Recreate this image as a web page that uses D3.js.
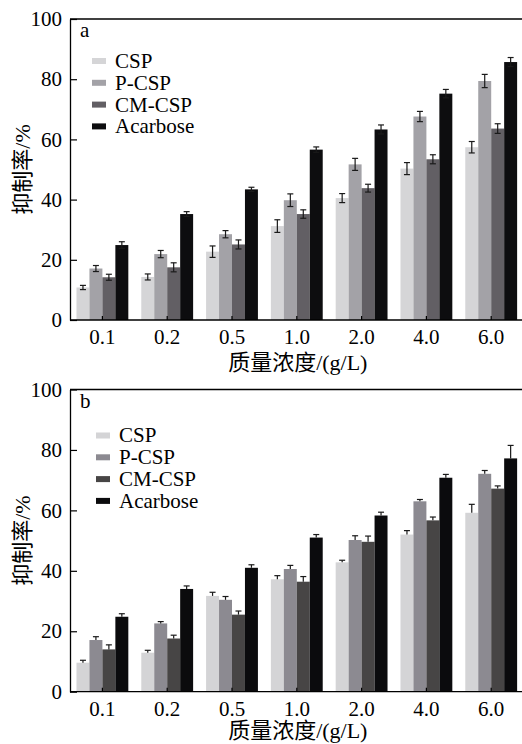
<!DOCTYPE html>
<html>
<head>
<meta charset="utf-8">
<script src="https://cdn.jsdelivr.net/npm/d3@7"></script>
<style>
  body { margin: 0; background: #fff; }
  svg { display: block; font-family: "Liberation Serif", "Noto Sans CJK SC", serif; }
</style>
</head>
<body>
<svg id="chart"></svg>
<script>
// Categories and ticks
const concentrations = ["0.1", "0.2", "0.5", "1.0", "2.0", "4.0", "6.0"];
const seriesNames = ["CSP", "P-CSP", "CM-CSP", "Acarbose"];
const yTicks = [0, 20, 40, 60, 80, 100];

// Panel a: means and errors (%)
const cspA = [10.8, 14.3, 22.7, 31.2, 40.5, 50.3, 57.4];
const pcspA = [17.1, 21.9, 28.5, 39.8, 51.7, 67.6, 79.4];
const cmcspA = [14.2, 17.5, 25.1, 35.2, 43.8, 53.4, 63.6];
const acarA = [24.9, 35.2, 43.4, 56.6, 63.3, 75.2, 85.7];
const cspErrA = [0.7, 1.0, 1.9, 2.1, 1.5, 2.0, 1.9];
const pcspErrA = [1.0, 1.2, 1.2, 2.1, 2.0, 1.7, 2.2];
const cmcspErrA = [1.0, 1.5, 1.5, 1.4, 1.3, 1.5, 1.6];
const acarErrA = [1.1, 0.8, 0.7, 0.9, 1.5, 1.4, 1.5];

// Panel b: means and errors (%)
const cspB = [9.6, 12.9, 31.7, 37.2, 42.8, 52.0, 59.2];
const pcspB = [17.1, 22.6, 30.4, 40.6, 50.2, 63.0, 72.1];
const cmcspB = [14.0, 17.6, 25.5, 36.4, 49.6, 56.7, 67.2];
const acarB = [24.8, 34.0, 41.0, 51.0, 58.3, 70.8, 77.2];
const cspErrB = [0.8, 0.8, 1.2, 1.2, 0.7, 1.3, 2.8];
const pcspErrB = [1.1, 0.6, 1.1, 1.2, 1.4, 0.6, 1.1];
const cmcspErrB = [1.5, 1.1, 1.2, 1.7, 1.9, 1.1, 0.9];
const acarErrB = [1.0, 1.0, 1.0, 1.0, 1.1, 1.1, 4.3];

const width = 522;
const height = 744;

const svg = d3.select("#chart")
    .attr("width", width)
    .attr("height", height);

svg.append("rect").attr("width", width).attr("height", height).attr("fill", "#fff");

// Panel settings
const panels = [
  {
    label: "a", top: 19, bottom: 320, titleGap: 42,
    values: [cspA, pcspA, cmcspA, acarA],
    errors: [cspErrA, pcspErrA, cmcspErrA, acarErrA],
    colors: ["#d5d5d7", "#a3a2a7", "#625f64", "#0d0d0f"],
    bothSides: true,
    legendX: 92, legendY: 61
  },
  {
    label: "b", top: 389.5, bottom: 691.7, titleGap: 39,
    values: [cspB, pcspB, cmcspB, acarB],
    errors: [cspErrB, pcspErrB, cmcspErrB, acarErrB],
    colors: ["#d4d4d6", "#8c8a91", "#474545", "#0b0b0d"],
    bothSides: false,
    legendX: 96, legendY: 435.5
  }
];

const left = 70;
const right = 523.6;

panels.forEach(p => {
  const g = svg.append("g");

  const x0 = d3.scaleBand()
      .domain(concentrations)
      .range([left, right])
      .paddingInner(0.2)
      .paddingOuter(0.1);

  const x1 = d3.scaleBand()
      .domain(seriesNames)
      .range([0, x0.bandwidth()]);

  const y = d3.scaleLinear()
      .domain([0, 100])
      .range([p.bottom, p.top]);

  // Top frame line
  g.append("line")
      .attr("x1", left).attr("x2", width)
      .attr("y1", y(100)).attr("y2", y(100))
      .attr("stroke", "#000").attr("stroke-width", 1.3);

  // Bars
  seriesNames.forEach((name, si) => {
    const rows = concentrations.map((c, i) => ({ c, v: p.values[si][i], e: p.errors[si][i] }));

    g.selectAll(null)
        .data(rows)
        .enter()
        .append("rect")
        .attr("x", d => x0(d.c) + x1(name))
        .attr("y", d => y(d.v))
        .attr("width", x1.bandwidth())
        .attr("height", d => y(0) - y(d.v))
        .attr("fill", p.colors[si]);

    // Error bars
    const eg = g.selectAll(null)
        .data(rows)
        .enter()
        .append("g")
        .attr("transform", d => `translate(${x0(d.c) + x1(name) + x1.bandwidth() / 2},0)`)
        .attr("stroke", "#1a1a1a")
        .attr("stroke-width", 1.2);

    eg.append("line")
        .attr("y1", d => p.bothSides ? y(d.v - d.e) : y(d.v))
        .attr("y2", d => y(d.v + d.e));
    eg.append("line")
        .attr("x1", -3).attr("x2", 3)
        .attr("y1", d => y(d.v + d.e)).attr("y2", d => y(d.v + d.e));
    if (p.bothSides) {
      eg.append("line")
          .attr("x1", -3).attr("x2", 3)
          .attr("y1", d => y(d.v - d.e)).attr("y2", d => y(d.v - d.e));
    }
  });

  // Y axis (ticks point inward)
  const yAxis = g.append("g")
      .attr("transform", `translate(${left},0)`)
      .call(d3.axisLeft(y).tickValues(yTicks).tickSizeInner(-7).tickSizeOuter(0).tickPadding(8));
  yAxis.selectAll("text").attr("font-size", 21).attr("fill", "#000").attr("font-family", "Liberation Serif");
  yAxis.selectAll("line").attr("stroke", "#000").attr("stroke-width", 1.2);
  yAxis.select(".domain").attr("stroke", "#000").attr("stroke-width", 1.3);

  // X axis (ticks point inward at group centres)
  const xAxis = g.append("g")
      .attr("transform", `translate(0,${p.bottom})`)
      .call(d3.axisBottom(x0).tickSizeInner(-4).tickSizeOuter(0).tickPadding(9));
  xAxis.selectAll("text").attr("font-size", 21).attr("fill", "#000").attr("font-family", "Liberation Serif");
  xAxis.selectAll("line").attr("stroke", "#000").attr("stroke-width", 1.2);
  xAxis.select(".domain").attr("stroke", "#000").attr("stroke-width", 1.3)
      .attr("d", `M${left},0H${width}`);

  // Panel letter
  g.append("text")
      .attr("x", 80)
      .attr("y", p.top + 11)
      .attr("dy", "0.35em")
      .attr("font-size", 21)
      .text(p.label);

  // Legend
  const legend = g.selectAll(".legend")
      .data(seriesNames)
      .enter()
      .append("g")
      .attr("transform", (d, i) => `translate(${p.legendX},${p.legendY + i * 21.8})`);
  legend.append("rect")
      .attr("x", 0).attr("y", -3)
      .attr("width", 14).attr("height", 6)
      .attr("fill", (d, i) => p.colors[i]);
  legend.append("text")
      .attr("x", 23)
      .attr("dy", "0.33em")
      .attr("font-size", 21)
      .text(d => d);

  // Axis titles
  g.append("text")
      .attr("transform", `translate(22,${(p.top + p.bottom) / 2}) rotate(-90)`)
      .attr("text-anchor", "middle")
      .attr("dy", "0.35em")
      .attr("font-size", 22)
      .text("抑制率/%");

  g.append("text")
      .attr("x", (left + right) / 2 + 1)
      .attr("y", p.bottom + p.titleGap)
      .attr("text-anchor", "middle")
      .attr("dy", "0.35em")
      .attr("font-size", 22)
      .text("质量浓度/(g/L)");
});
</script>
</body>
</html>
